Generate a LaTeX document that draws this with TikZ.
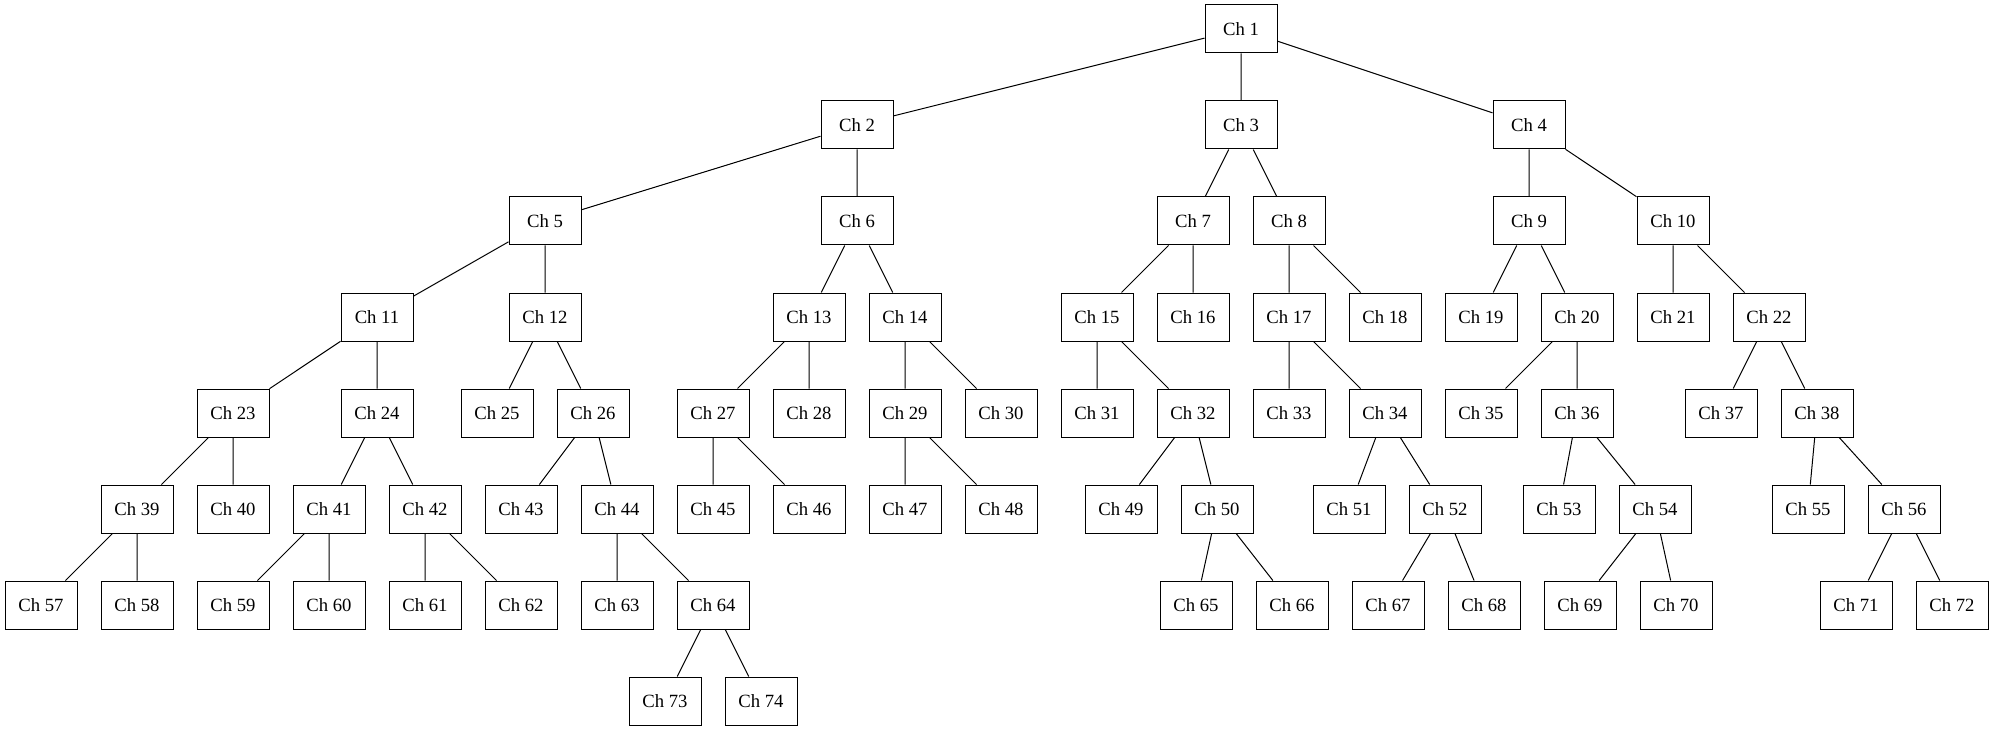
\documentclass[tikz,border=0pt]{standalone}
\usepackage{fontspec}
\setmainfont{Liberation Serif}
\usepackage{tikz}
\usetikzlibrary{shapes.geometric, positioning}

\begin{document}
\begin{tikzpicture}[x=0.75pt, y=0.75pt, line width=0.75pt,
  chbox/.style={rectangle, draw, minimum width=54pt, minimum height=36pt, inner sep=0pt,
    font=\fontsize{14}{16}\selectfont}]
\useasboundingbox (0,0) rectangle (1993,-731);
% level 0 and 1
\node [chbox] (c1) at (1241,-29) {Ch 1};
\node [chbox] (c2) at (857,-125) {Ch 2};
\node [chbox] (c3) at (1241,-125) {Ch 3};
\node [chbox] (c4) at (1529,-125) {Ch 4};
% level 2
\node [chbox] (c5) at (545,-221) {Ch 5};
\node [chbox] (c6) at (857,-221) {Ch 6};
\node [chbox] (c7) at (1193,-221) {Ch 7};
\node [chbox] (c8) at (1289,-221) {Ch 8};
\node [chbox] (c9) at (1529,-221) {Ch 9};
\node [chbox] (c10) at (1673,-221) {Ch 10};
% level 3
\node [chbox] (c11) at (377,-317) {Ch 11};
\node [chbox] (c12) at (545,-317) {Ch 12};
\node [chbox] (c13) at (809,-317) {Ch 13};
\node [chbox] (c14) at (905,-317) {Ch 14};
\node [chbox] (c15) at (1097,-317) {Ch 15};
\node [chbox] (c16) at (1193,-317) {Ch 16};
\node [chbox] (c17) at (1289,-317) {Ch 17};
\node [chbox] (c18) at (1385,-317) {Ch 18};
\node [chbox] (c19) at (1481,-317) {Ch 19};
\node [chbox] (c20) at (1577,-317) {Ch 20};
\node [chbox] (c21) at (1673,-317) {Ch 21};
\node [chbox] (c22) at (1769,-317) {Ch 22};
% level 4
\node [chbox] (c23) at (233,-413) {Ch 23};
\node [chbox] (c24) at (377,-413) {Ch 24};
\node [chbox] (c25) at (497,-413) {Ch 25};
\node [chbox] (c26) at (593,-413) {Ch 26};
\node [chbox] (c27) at (713,-413) {Ch 27};
\node [chbox] (c28) at (809,-413) {Ch 28};
\node [chbox] (c29) at (905,-413) {Ch 29};
\node [chbox] (c30) at (1001,-413) {Ch 30};
\node [chbox] (c31) at (1097,-413) {Ch 31};
\node [chbox] (c32) at (1193,-413) {Ch 32};
\node [chbox] (c33) at (1289,-413) {Ch 33};
\node [chbox] (c34) at (1385,-413) {Ch 34};
\node [chbox] (c35) at (1481,-413) {Ch 35};
\node [chbox] (c36) at (1577,-413) {Ch 36};
\node [chbox] (c37) at (1721,-413) {Ch 37};
\node [chbox] (c38) at (1817,-413) {Ch 38};
% level 5
\node [chbox] (c39) at (137,-509) {Ch 39};
\node [chbox] (c40) at (233,-509) {Ch 40};
\node [chbox] (c41) at (329,-509) {Ch 41};
\node [chbox] (c42) at (425,-509) {Ch 42};
\node [chbox] (c43) at (521,-509) {Ch 43};
\node [chbox] (c44) at (617,-509) {Ch 44};
\node [chbox] (c45) at (713,-509) {Ch 45};
\node [chbox] (c46) at (809,-509) {Ch 46};
\node [chbox] (c47) at (905,-509) {Ch 47};
\node [chbox] (c48) at (1001,-509) {Ch 48};
\node [chbox] (c49) at (1121,-509) {Ch 49};
\node [chbox] (c50) at (1217,-509) {Ch 50};
\node [chbox] (c51) at (1349,-509) {Ch 51};
\node [chbox] (c52) at (1445,-509) {Ch 52};
\node [chbox] (c53) at (1559,-509) {Ch 53};
\node [chbox] (c54) at (1655,-509) {Ch 54};
\node [chbox] (c55) at (1808,-509) {Ch 55};
\node [chbox] (c56) at (1904,-509) {Ch 56};
% level 6
\node [chbox] (c57) at (41,-605) {Ch 57};
\node [chbox] (c58) at (137,-605) {Ch 58};
\node [chbox] (c59) at (233,-605) {Ch 59};
\node [chbox] (c60) at (329,-605) {Ch 60};
\node [chbox] (c61) at (425,-605) {Ch 61};
\node [chbox] (c62) at (521,-605) {Ch 62};
\node [chbox] (c63) at (617,-605) {Ch 63};
\node [chbox] (c64) at (713,-605) {Ch 64};
\node [chbox] (c65) at (1196,-605) {Ch 65};
\node [chbox] (c66) at (1292,-605) {Ch 66};
\node [chbox] (c67) at (1388,-605) {Ch 67};
\node [chbox] (c68) at (1484,-605) {Ch 68};
\node [chbox] (c69) at (1580,-605) {Ch 69};
\node [chbox] (c70) at (1676,-605) {Ch 70};
\node [chbox] (c71) at (1856,-605) {Ch 71};
\node [chbox] (c72) at (1952,-605) {Ch 72};
% level 7
\node [chbox] (c73) at (665,-701) {Ch 73};
\node [chbox] (c74) at (761,-701) {Ch 74};
% edges
\draw (c1) -- (c2) (c1) -- (c3) (c1) -- (c4);
\draw (c2) -- (c5) (c2) -- (c6) (c3) -- (c7) (c3) -- (c8) (c4) -- (c9) (c4) -- (c10);
\draw (c5) -- (c11) (c5) -- (c12) (c6) -- (c13) (c6) -- (c14) (c7) -- (c15) (c7) -- (c16);
\draw (c8) -- (c17) (c8) -- (c18) (c9) -- (c19) (c9) -- (c20) (c10) -- (c21) (c10) -- (c22);
\draw (c11) -- (c23) (c11) -- (c24) (c12) -- (c25) (c12) -- (c26) (c13) -- (c27) (c13) -- (c28);
\draw (c14) -- (c29) (c14) -- (c30) (c15) -- (c31) (c15) -- (c32) (c17) -- (c33) (c17) -- (c34);
\draw (c20) -- (c35) (c20) -- (c36) (c22) -- (c37) (c22) -- (c38);
\draw (c23) -- (c39) (c23) -- (c40) (c24) -- (c41) (c24) -- (c42) (c26) -- (c43) (c26) -- (c44);
\draw (c27) -- (c45) (c27) -- (c46) (c29) -- (c47) (c29) -- (c48) (c32) -- (c49) (c32) -- (c50);
\draw (c34) -- (c51) (c34) -- (c52) (c36) -- (c53) (c36) -- (c54) (c38) -- (c55) (c38) -- (c56);
\draw (c39) -- (c57) (c39) -- (c58) (c41) -- (c59) (c41) -- (c60) (c42) -- (c61) (c42) -- (c62);
\draw (c44) -- (c63) (c44) -- (c64) (c50) -- (c65) (c50) -- (c66) (c52) -- (c67) (c52) -- (c68);
\draw (c54) -- (c69) (c54) -- (c70) (c56) -- (c71) (c56) -- (c72);
\draw (c64) -- (c73) (c64) -- (c74);
\end{tikzpicture}
\end{document}
